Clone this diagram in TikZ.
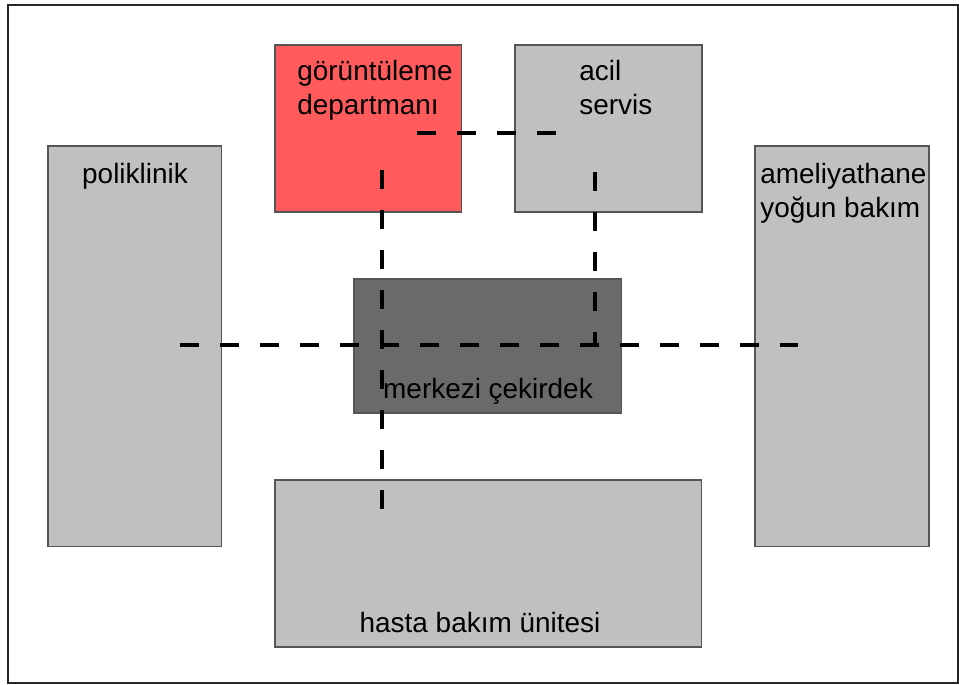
\documentclass[tikz,border=0pt]{standalone}
\usepackage{fontspec}
\setmainfont{Liberation Sans}
\definecolor{roomgray}{RGB}{192,192,192}
\definecolor{coregray}{RGB}{106,106,106}
\definecolor{imgred}{RGB}{255,90,92}
\definecolor{edgegray}{RGB}{85,85,85}

\begin{document}
\begin{tikzpicture}[x=0.02cm, y=-0.02cm,
    room/.style={rectangle, draw=edgegray, line width=0.6pt, fill=roomgray, anchor=north west, inner sep=0pt, outer sep=0pt},
    roomtext/.style={font=\fontsize{15.9}{18.8}\selectfont, inner sep=0pt, align=left},
    corridor/.style={line width=2.3pt, dash pattern=on 0.38cm off 0.42cm}]
  \useasboundingbox (0,0) rectangle (959,684);
  \draw[line width=0.8pt, black!85] (8,5) rectangle (958,683);

  % Rooms
  \node (poli) [room, minimum width=3.48cm, minimum height=8.02cm] at (48,146) {};
  \node (imaging) [room, fill=imgred, minimum width=3.74cm, minimum height=3.34cm] at (275,45) {};
  \node (acil) [room, minimum width=3.74cm, minimum height=3.34cm] at (515,45) {};
  \node (ameliyat) [room, minimum width=3.48cm, minimum height=8.02cm] at (755,146) {};
  \node (core) [room, fill=coregray, minimum width=5.36cm, minimum height=2.68cm] at (354,279) {};
  \node (hasta) [room, minimum width=8.54cm, minimum height=3.34cm] at (275,480) {};

  % Labels (base = last line)
  \node (politext) [roomtext, anchor=base] at (135,183) {poliklinik};
  \node (imagingtext) [roomtext, anchor=base west] at (297,114) {görüntüleme\\departmanı};
  \node (aciltext) [roomtext, anchor=base west] at (579,114) {acil\\servis};
  \node (ameliyattext) [roomtext, anchor=base west] at (760,217) {ameliyathane\\yoğun bakım};
  \node (coretext) [roomtext, anchor=base] at (488,398) {merkezi çekirdek};
  \node (hastatext) [roomtext, anchor=base] at (480,632) {hasta bakım ünitesi};

  % Corridors
  \coordinate (west) at (180,345);
  \coordinate (east) at (798,345);
  \coordinate (north1) at (382,170);
  \coordinate (south1) at (382,522);
  \coordinate (north2) at (595,172);
  \coordinate (bend2) at (595,345);
  \coordinate (top1) at (417,133);
  \coordinate (top2) at (562,133);
  \draw[corridor] (west) -- (east);
  \draw[corridor] (north1) -- (south1);
  \draw[corridor] (north2) -- (bend2);
  \draw[corridor] (top1) -- (top2);
\end{tikzpicture}
\end{document}
